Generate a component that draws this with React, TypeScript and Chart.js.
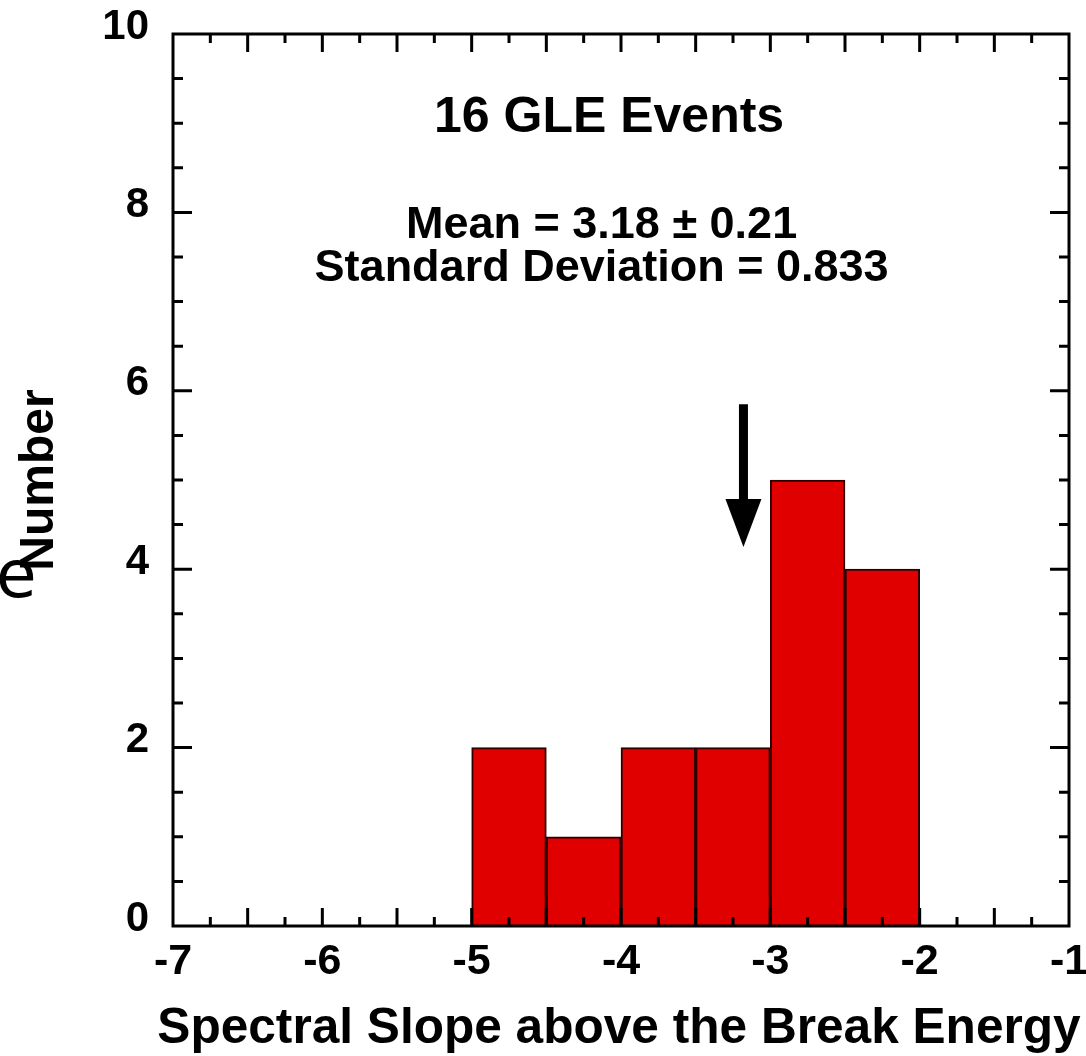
import React, { useEffect, useRef } from "react";
import { Chart, registerables } from "chart.js";

Chart.register(...registerables);

// ---- data ----
const binCenters = [-4.75, -4.25, -3.75, -3.25, -2.75, -2.25];
const counts = [2, 1, 2, 2, 5, 4];
const xTickValues = [-7, -6, -5, -4, -3, -2, -1];
const yTickValues = [0, 2, 4, 6, 8, 10];
const xTitle = "Spectral Slope above the Break Energy";
const yTitle = "Number";
const titleText = "16 GLE Events";
const statLines = ["Mean = 3.18 ± 0.21", "Standard Deviation = 0.833"];
const meanSlope = -3.18;
const arrowTopValue = 5.85;
const arrowTipValue = 4.25;
const strayText = "e";

// ---- annotation placement (data coordinates) ----
const titleCenterX = -4.08;
const statCenterX = -4.13;
const titleBaseline = 8.9;
const statBaselines = [7.71, 7.23];

const FONT = '"Liberation Sans", Arial, Helvetica, sans-serif';

const framePlugin = {
  id: "framePlugin",
  afterDatasetsDraw(chart: any) {
    const { ctx, chartArea: a, scales } = chart;
    const xs = scales.x;
    const ys = scales.y;
    ctx.save();
    ctx.strokeStyle = "#000";
    ctx.lineWidth = 3;
    ctx.lineCap = "butt";
    // x ticks (every 0.25, long on 0.5)
    for (let i = 1; i < 24; i++) {
      const v = xs.min + i * 0.25;
      const px = xs.getPixelForValue(v);
      const len = i % 2 === 0 ? 18 : 9;
      ctx.beginPath();
      ctx.moveTo(px, a.bottom);
      ctx.lineTo(px, a.bottom - len);
      ctx.moveTo(px, a.top);
      ctx.lineTo(px, a.top + len);
      ctx.stroke();
    }
    // y ticks (every 0.5, long on 2)
    for (let i = 1; i < 20; i++) {
      const v = ys.min + i * 0.5;
      const py = ys.getPixelForValue(v);
      const len = i % 4 === 0 ? 19 : 10;
      ctx.beginPath();
      ctx.moveTo(a.left, py);
      ctx.lineTo(a.left + len, py);
      ctx.moveTo(a.right, py);
      ctx.lineTo(a.right - len, py);
      ctx.stroke();
    }
    ctx.strokeRect(a.left, a.top, a.right - a.left, a.bottom - a.top);

    // arrow at the mean
    const ax = xs.getPixelForValue(meanSlope);
    const yTop = ys.getPixelForValue(arrowTopValue);
    const yTip = ys.getPixelForValue(arrowTipValue);
    const headLen = 48;
    const headHalf = 18;
    ctx.lineWidth = 9;
    ctx.beginPath();
    ctx.moveTo(ax, yTop);
    ctx.lineTo(ax, yTip - headLen + 4);
    ctx.stroke();
    ctx.fillStyle = "#000";
    ctx.beginPath();
    ctx.moveTo(ax - headHalf, yTip - headLen);
    ctx.lineTo(ax + headHalf, yTip - headLen);
    ctx.lineTo(ax, yTip);
    ctx.closePath();
    ctx.fill();

    // texts
    ctx.textAlign = "center";
    ctx.textBaseline = "alphabetic";
    ctx.font = `bold 50px ${FONT}`;
    ctx.fillText(titleText, xs.getPixelForValue(titleCenterX), ys.getPixelForValue(titleBaseline));
    ctx.font = `bold 45px ${FONT}`;
    const sx = xs.getPixelForValue(statCenterX);
    statLines.forEach((t, i) => {
      ctx.fillText(t, sx, ys.getPixelForValue(statBaselines[i]));
    });
    ctx.restore();
  },
  afterDraw(chart: any) {
    const { ctx, chartArea: a } = chart;
    ctx.save();
    ctx.fillStyle = "#000";
    // x-axis title (drawn here so it may be wider than the plot area, as in the original)
    ctx.font = `bold 49.6px ${FONT}`;
    ctx.textAlign = "center";
    ctx.textBaseline = "alphabetic";
    ctx.fillText(xTitle, (a.left + a.right) / 2 - 2, 1043);
    ctx.font = `66px "DejaVu Sans", sans-serif`;
    ctx.textAlign = "left";
    ctx.fillText(strayText, -4, 597);
    ctx.restore();
  },
};

export default function App() {
  const ref = useRef<HTMLCanvasElement | null>(null);
  useEffect(() => {
    if (!ref.current) return;
    const chart = new Chart(ref.current, {
      type: "bar",
      data: {
        datasets: [
          {
            data: binCenters.map((x, i) => ({ x, y: counts[i] })),
            backgroundColor: "#e10000",
            borderColor: "#300000",
            borderWidth: 2,
            barPercentage: 1,
            categoryPercentage: 1,
            grouped: false,
          } as any,
        ],
      },
      plugins: [framePlugin],
      options: {
        responsive: false,
        animation: false,
        layout: { padding: { top: 34, right: 17, left: 0, bottom: 0 } },
        plugins: { legend: { display: false }, tooltip: { enabled: false } },
        scales: {
          x: {
            type: "linear",
            min: -7,
            max: -1,
            offset: false,
            grid: { display: false, drawTicks: false },
            border: { display: false },
            afterFit: (s: any) => {
              s.height = 130;
              s.paddingLeft = 0;
              s.paddingRight = 0;
            },
            afterBuildTicks: (s: any) => {
              s.ticks = xTickValues.map((v) => ({ value: v }));
            },
            ticks: {
              color: "#000",
              padding: 10,
              maxRotation: 0,
              autoSkip: false,
              font: { family: FONT, size: 43, weight: "bold" },
              callback: (v: any) => String(v),
            },
            title: { display: false, text: xTitle },
          },
          y: {
            min: 0,
            max: 10,
            grid: { display: false, drawTicks: false },
            border: { display: false },
            afterFit: (s: any) => {
              s.width = 173;
              s.paddingTop = 0;
              s.paddingBottom = 0;
            },
            afterBuildTicks: (s: any) => {
              s.ticks = yTickValues.map((v) => ({ value: v }));
            },
            ticks: {
              color: "#000",
              padding: 24,
              labelOffset: -7,
              font: { family: FONT, size: 42, weight: "bold" },
              callback: (v: any) => String(v),
            },
            title: {
              display: true,
              text: yTitle,
              color: "#000",
              padding: { top: 16, bottom: 0 },
              font: { family: FONT, size: 48, weight: "bold", lineHeight: 1 },
            },
          },
        },
      } as any,
    });
    return () => chart.destroy();
  }, []);
  return (
    <div style={{ position: "fixed", left: 0, top: 0, width: 1086, height: 1056, background: "#fff" }}>
      <canvas ref={ref} width={1086} height={1056} style={{ display: "block" }} />
    </div>
  );
}
